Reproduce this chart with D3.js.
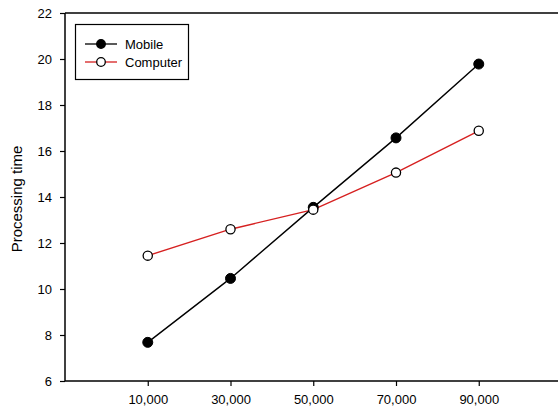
<!DOCTYPE html>
<html>
<head>
<meta charset="utf-8">
<script src="https://cdn.jsdelivr.net/npm/d3@7"></script>
<style>
  html, body { margin: 0; padding: 0; background: #fff; }
  svg { display: block; font-family: "Liberation Sans", Arial, sans-serif; }
</style>
</head>
<body>
<svg id="chart" width="558" height="411"></svg>
<script>
const categories = [10000, 30000, 50000, 70000, 90000];
const mobileValues = [7.68, 10.46, 13.55, 16.57, 19.78];
const computerValues = [11.45, 12.6, 13.45, 15.06, 16.88];
const yTicks = [6, 8, 10, 12, 14, 16, 18, 20, 22];
const seriesNames = ["Mobile", "Computer"];

const svg = d3.select("#chart");
const plotLeft = 65, plotRight = 561.5, plotTop = 13, plotBottom = 381;

const x = d3.scaleLinear().domain([-10000, 110000]).range([plotLeft, plotRight]);
const y = d3.scaleLinear().domain([6, 22]).range([plotBottom, plotTop]);

// top border
svg.append("line")
  .attr("x1", plotLeft).attr("x2", 558)
  .attr("y1", plotTop).attr("y2", plotTop)
  .attr("stroke", "#000").attr("stroke-width", 1.5);

// y axis
const yAxis = svg.append("g")
  .attr("transform", `translate(${plotLeft},0)`)
  .call(d3.axisLeft(y).tickValues(yTicks).tickSize(5).tickPadding(8).tickFormat(d3.format("d")));
yAxis.select(".domain").attr("stroke-width", 1.5).attr("d", `M0,${plotBottom}V${plotTop}`);
yAxis.selectAll(".tick line").attr("stroke-width", 1.2);
yAxis.selectAll("text").attr("font-size", 13).attr("fill", "#000")
  .attr("font-family", "'Liberation Sans', Arial, sans-serif");

// x axis
const xAxis = svg.append("g")
  .attr("transform", `translate(0,${plotBottom})`)
  .call(d3.axisBottom(x).tickValues(categories).tickSize(5).tickPadding(9).tickFormat(d3.format(",")));
xAxis.select(".domain").attr("stroke-width", 1.5).attr("d", `M${plotLeft},0H558`);
xAxis.selectAll(".tick line").attr("stroke-width", 1.2);
xAxis.selectAll("text").attr("font-size", 13).attr("fill", "#000")
  .attr("font-family", "'Liberation Sans', Arial, sans-serif");

// y label
svg.append("text")
  .attr("transform", `translate(22,199) rotate(-90)`)
  .attr("text-anchor", "middle")
  .attr("font-size", 15)
  .attr("fill", "#000")
  .text("Processing time");

const line = d3.line().x((d, i) => x(categories[i])).y(d => y(d));

// computer series
svg.append("path").datum(computerValues)
  .attr("d", line).attr("fill", "none").attr("stroke", "#d62020").attr("stroke-width", 1.4);
// mobile series
svg.append("path").datum(mobileValues)
  .attr("d", line).attr("fill", "none").attr("stroke", "#000").attr("stroke-width", 1.4);

svg.append("g").selectAll("circle").data(mobileValues).join("circle")
  .attr("cx", (d, i) => x(categories[i])).attr("cy", d => y(d)).attr("r", 5)
  .attr("fill", "#000").attr("stroke", "#000").attr("stroke-width", 1);

svg.append("g").selectAll("circle").data(computerValues).join("circle")
  .attr("cx", (d, i) => x(categories[i])).attr("cy", d => y(d)).attr("r", 4.6)
  .attr("fill", "#fff").attr("stroke", "#000").attr("stroke-width", 1.3);

// legend
const legend = svg.append("g");
legend.append("rect")
  .attr("x", 75.5).attr("y", 24.5).attr("width", 113).attr("height", 55)
  .attr("fill", "#fff").attr("stroke", "#000").attr("stroke-width", 1.2);
const rows = [
  { name: seriesNames[0], color: "#000", fill: "#000", yy: 44 },
  { name: seriesNames[1], color: "#d62020", fill: "#fff", yy: 62 }
];
rows.forEach(r => {
  legend.append("line").attr("x1", 85).attr("x2", 117).attr("y1", r.yy).attr("y2", r.yy)
    .attr("stroke", r.color).attr("stroke-width", 1.3);
  legend.append("circle").attr("cx", 101).attr("cy", r.yy).attr("r", 4.3)
    .attr("fill", r.fill).attr("stroke", "#000").attr("stroke-width", 1.3);
  legend.append("text").attr("x", 125).attr("y", r.yy).attr("dy", "0.35em")
    .attr("font-size", 13).attr("fill", "#000").text(r.name);
});
</script>
</body>
</html>
